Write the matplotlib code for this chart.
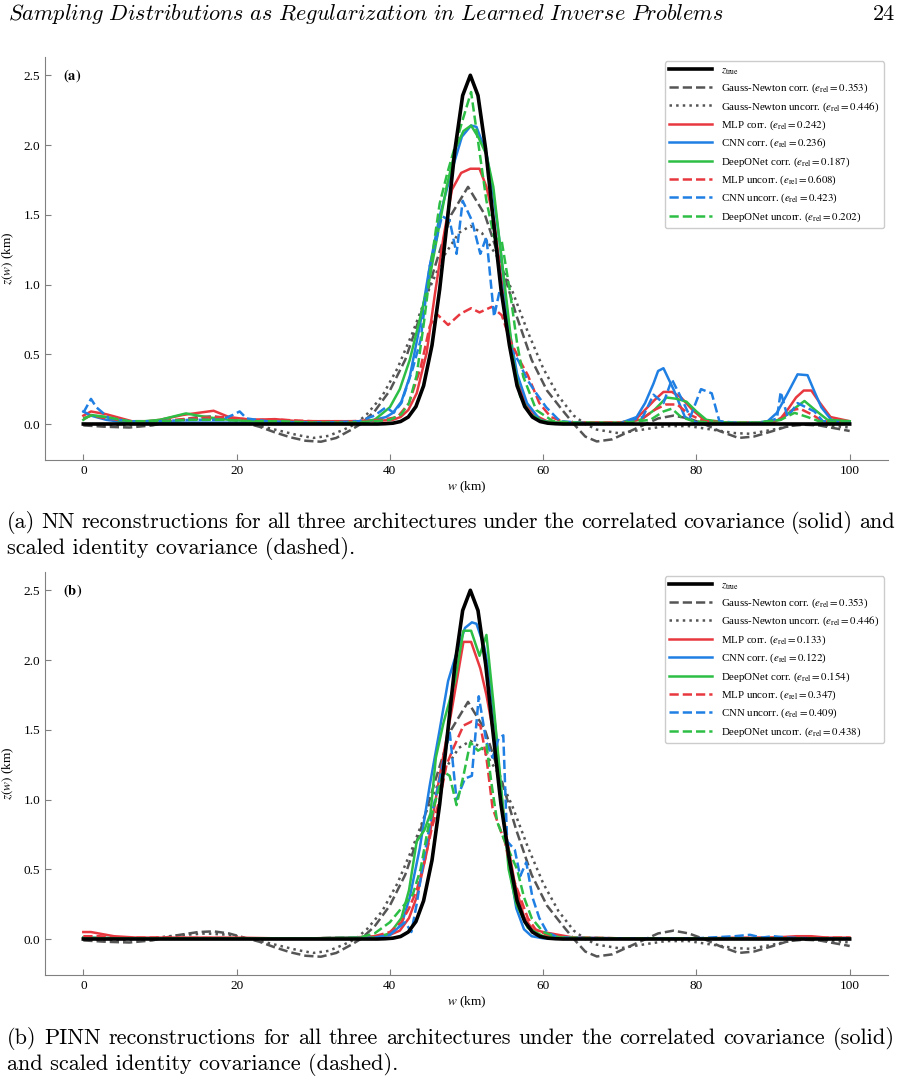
import matplotlib
matplotlib.use("Agg")
import matplotlib.pyplot as plt

plt.rcParams['font.family'] = ['Liberation Serif', 'DejaVu Serif']
plt.rcParams['mathtext.fontset'] = 'stix'

# ground truth and Gauss-Newton (same in both panels)
w_true = [0, 38.4, 39.4, 40.4, 41.4, 42.4, 43.4, 44.4, 45.5, 46.5, 47.5, 48.5, 49.5, 50.5,
          51.5, 52.5, 53.5, 54.5, 55.6, 56.6, 57.6, 58.6, 59.6, 60.6, 61.6, 62.6, 100]
z_true = [0, 0, 0.002, 0.006, 0.018, 0.05, 0.125, 0.274, 0.565, 0.966, 1.46, 1.97, 2.355, 2.5,
          2.355, 1.97, 1.46, 0.966, 0.565, 0.274, 0.125, 0.05, 0.018, 0.006, 0.002, 0, 0]

w_gn_c = [0, 3, 6, 9, 12, 15, 17, 19, 21, 23, 25, 27, 29, 31, 33, 35, 36.2, 38, 40, 42, 44, 46,
          48, 50.2, 52.4, 54.5, 56.5, 58.5, 60.5, 62.5, 64, 65.5, 67, 69, 71, 73, 75, 77, 79, 81,
          83, 85.5, 87.5, 90, 92, 94, 96, 98, 100]
z_gn_c = [-0.01, -0.02, -0.025, -0.01, 0.025, 0.05, 0.055, 0.04, 0.01, -0.02, -0.06, -0.095,
          -0.12, -0.127, -0.1, -0.04, 0.0, 0.09, 0.24, 0.46, 0.78, 1.15, 1.5, 1.7, 1.5, 1.15,
          0.78, 0.46, 0.24, 0.1, 0.0, -0.09, -0.125, -0.11, -0.06, -0.01, 0.04, 0.06, 0.04, 0.0,
          -0.05, -0.1, -0.09, -0.05, -0.015, -0.005, -0.01, -0.03, -0.05]

w_gn_u = [0, 4, 8, 12, 16, 19, 22, 25, 28, 30, 32, 34, 35.5, 37, 39, 41, 43, 45, 47, 49, 50.5,
          52, 54, 56, 58, 60, 62, 64, 65.5, 67, 70, 73, 76, 79, 82, 85, 87, 90, 93, 96, 100]
z_gn_u = [0.0, -0.01, 0.0, 0.025, 0.04, 0.03, 0.0, -0.04, -0.08, -0.1, -0.085, -0.04, 0.0, 0.07,
          0.2, 0.4, 0.66, 0.95, 1.2, 1.37, 1.42, 1.37, 1.2, 0.95, 0.66, 0.4, 0.2, 0.06, 0.0,
          -0.04, -0.067, -0.04, -0.015, -0.015, -0.04, -0.065, -0.07, -0.04, -0.005, -0.005, -0.025]

# (a) NN reconstructions
a_mlp_c_w = [0, 1, 3, 5, 7, 10, 13, 15, 17, 19, 22, 25, 28, 32, 36, 39, 40.4, 41.4, 42.4, 43.5,
             44.8, 45.9, 47, 48.1, 49.3, 50.5, 51.7, 52.6, 53.6, 54.5, 55.5, 56.6, 57.7, 59, 60.5,
             62, 66, 70, 72, 73.1, 74.5, 75.7, 76.8, 78, 79.5, 81, 83, 87, 90, 91, 92, 93, 94, 95,
             96, 97.5, 100]
a_mlp_c_z = [0.06, 0.09, 0.07, 0.04, 0.01, 0.03, 0.065, 0.08, 0.095, 0.05, 0.03, 0.035, 0.02,
             0.02, 0.02, 0.025, 0.03, 0.05, 0.1, 0.22, 0.51, 0.94, 1.34, 1.68, 1.8, 1.83, 1.83,
             1.7, 1.46, 1.06, 0.65, 0.34, 0.15, 0.06, 0.02, 0.01, 0.01, 0.01, 0.03, 0.09, 0.17,
             0.23, 0.23, 0.19, 0.1, 0.03, 0.01, 0.01, 0.01, 0.04, 0.11, 0.19, 0.24, 0.24, 0.16,
             0.05, 0.02]

a_cnn_c_w = [0, 1, 3, 5, 8, 12, 16, 20, 25, 30, 35, 38, 39.5, 40.4, 41.5, 42.6, 43.9, 45.2,
             46.5, 48.1, 49.4, 50.6, 51.3, 52.6, 53.5, 54.4, 55.5, 56.6, 57.9, 59.6, 61, 65, 70,
             72.2, 73.3, 74.4, 75, 75.7, 77, 78.5, 80, 84, 88, 89.3, 90.5, 91.9, 93.2, 94.5, 95.5,
             96.3, 97.6, 100]
a_cnn_c_z = [0.09, 0.06, 0.03, 0.015, 0.01, 0.01, 0.01, 0.01, 0.01, 0.01, 0.01, 0.03, 0.05,
             0.08, 0.16, 0.34, 0.7, 1.13, 1.49, 1.82, 2.06, 2.14, 2.13, 1.94, 1.65, 1.27, 0.7,
             0.36, 0.15, 0.03, 0.01, 0.005, 0.005, 0.05, 0.15, 0.29, 0.38, 0.4, 0.25, 0.05, 0.01,
             0.005, 0.01, 0.02, 0.08, 0.22, 0.356, 0.35, 0.22, 0.12, 0.03, 0.01]

a_don_c_w = [0, 1, 3, 5, 7, 10, 13.4, 16, 19, 22, 26, 30, 35, 38, 40, 41.3, 42.6, 43.9, 45.2,
             46.3, 47.4, 48.6, 49.6, 50.6, 51.6, 52.6, 53.5, 54.4, 55.3, 56.1, 57, 58.3, 60, 62,
             66, 70, 72.7, 74.5, 76.1, 77.5, 78.7, 80, 81.3, 84, 88, 91, 92.5, 94.1, 95.5, 97.1,
             100]
a_don_c_z = [0.03, 0.065, 0.05, 0.02, 0.015, 0.03, 0.076, 0.05, 0.03, 0.02, 0.015, 0.01, 0.01,
             0.03, 0.12, 0.25, 0.46, 0.75, 1.05, 1.38, 1.7, 1.98, 2.1, 2.14, 2.05, 1.93, 1.7,
             1.27, 0.85, 0.46, 0.2, 0.07, 0.02, 0.01, 0.01, 0.01, 0.03, 0.1, 0.19, 0.18, 0.16,
             0.09, 0.03, 0.01, 0.01, 0.03, 0.1, 0.165, 0.1, 0.03, 0.02]

a_mlp_u_w = [0, 1, 3, 6, 10, 14, 18, 22, 26, 30, 35, 39, 41, 42.5, 44, 45.2, 46.1, 47.6, 49.2,
             50.6, 51.7, 53.3, 54.6, 55.7, 57, 58, 59.5, 61, 63, 67, 71, 73, 74.5, 76, 77.5, 79,
             81, 85, 89, 91, 92.5, 93.5, 95, 96.5, 98, 100]
a_mlp_u_z = [0.04, 0.06, 0.04, 0.02, 0.02, 0.04, 0.05, 0.03, 0.03, 0.02, 0.02, 0.03, 0.05,
             0.15, 0.4, 0.7, 0.79, 0.71, 0.79, 0.83, 0.8, 0.84, 0.78, 0.6, 0.45, 0.35, 0.15,
             0.05, 0.01, 0.01, 0.01, 0.04, 0.1, 0.14, 0.14, 0.07, 0.02, 0.01, 0.01, 0.04, 0.1,
             0.11, 0.07, 0.02, 0.01, 0.01]

a_cnn_u_w = [0, 1, 1.7, 3.4, 6, 10, 14, 18, 19.5, 20.4, 21.3, 24, 28, 32, 36, 38, 39.5, 40.5,
             41.5, 43, 44, 45.2, 46.8, 47.8, 48.7, 49.5, 50.7, 51.8, 52.6, 53.6, 54.5, 55.7,
             56.8, 57.9, 59.1, 60.4, 62.2, 66, 70, 73, 74.4, 75.7, 76.8, 77.9, 79.2, 80.6, 82,
             83, 86, 89, 90.5, 91, 91.9, 93.2, 95.4, 96.5, 100]
a_cnn_u_z = [0.08, 0.18, 0.12, 0.04, 0.02, 0.02, 0.03, 0.03, 0.065, 0.09, 0.04, 0.02, 0.01,
             0.01, 0.02, 0.06, 0.12, 0.08, 0.15, 0.4, 0.6, 1.13, 1.49, 1.46, 1.22, 1.6, 1.46,
             1.22, 1.34, 0.77, 1.0, 0.55, 0.45, 0.32, 0.22, 0.12, 0.02, 0.005, 0.005, 0.05, 0.21,
             0.15, 0.32, 0.2, 0.05, 0.25, 0.22, 0.02, 0.005, 0.01, 0.04, 0.23, 0.05, 0.15, 0.09,
             0.02, 0.01]

a_don_u_w = [0, 1, 3, 6, 10, 14, 18, 22, 26, 30, 35, 38, 40, 41.5, 42.5, 43.5, 44.5, 45.5, 46.5,
             47.5, 48.5, 49.5, 50.6, 51.6, 52.6, 53.6, 54.6, 55.7, 56.6, 57.4, 59.1, 61.3, 64,
             70, 74, 75.7, 76.8, 78, 79.6, 82, 88, 91, 92.8, 94.5, 96, 100]
a_don_u_z = [0.04, 0.06, 0.05, 0.02, 0.02, 0.03, 0.03, 0.02, 0.02, 0.01, 0.01, 0.02, 0.03, 0.07,
             0.15, 0.35, 0.75, 1.2, 1.58, 1.8, 1.99, 2.18, 2.38, 1.99, 1.6, 1.34, 1.31, 0.94,
             0.58, 0.34, 0.1, 0.02, 0.01, 0.005, 0.03, 0.09, 0.11, 0.05, 0.02, 0.01, 0.01, 0.03,
             0.08, 0.05, 0.02, 0.01]

# (b) PINN reconstructions
b_mlp_c_w = [0, 1, 2, 4, 7, 10, 15, 20, 25, 30, 35, 38, 40, 41.3, 42.5, 43.5, 44.8, 46.5, 48.1,
             49.6, 50.6, 51.8, 52.6, 53.6, 54.5, 55.2, 56.3, 57.5, 58.6, 60, 62, 64, 70, 80, 90,
             93, 95, 97, 100]
b_mlp_c_z = [0.05, 0.05, 0.04, 0.02, 0.01, 0.01, 0.01, 0.01, 0.005, 0.005, 0.01, 0.02, 0.03,
             0.06, 0.15, 0.3, 0.62, 1.17, 1.65, 2.13, 2.13, 1.94, 1.75, 1.45, 1.05, 0.74, 0.4,
             0.16, 0.07, 0.05, 0.03, 0.01, 0.005, 0.005, 0.01, 0.02, 0.02, 0.01, 0.01]

b_cnn_c_w = [0, 5, 10, 20, 30, 38, 40, 41.5, 42.6, 43.9, 45.2, 46.5, 47.6, 48.7, 49.8, 50.7,
             51.3, 52.3, 53.0, 53.8, 54.6, 55.5, 56.5, 57.5, 58.5, 60, 62, 70, 80, 90, 100]
b_cnn_c_z = [0.01, 0.005, 0.005, 0.005, 0.005, 0.01, 0.03, 0.1, 0.3, 0.65, 1.1, 1.5, 1.85, 2.05,
             2.23, 2.27, 2.26, 2.1, 1.89, 1.5, 1.0, 0.55, 0.22, 0.07, 0.02, 0.005, 0.005, 0.005,
             0.005, 0.005, 0.005]

b_don_c_w = [0, 5, 10, 20, 30, 38, 40, 41.5, 42.5, 43.5, 44.5, 45.3, 46, 47, 48.5, 49.6, 50.6,
             51.7, 52.6, 53.5, 54.5, 55.5, 56.5, 58, 60, 65, 80, 100]
b_don_c_z = [0.01, 0.005, 0.005, 0.005, 0.005, 0.01, 0.04, 0.15, 0.35, 0.7, 0.78, 0.9, 1.3, 1.55,
             1.85, 2.21, 2.21, 2.03, 2.18, 1.7, 1.1, 0.5, 0.25, 0.08, 0.02, 0.005, 0.005, 0.005]

b_mlp_u_w = [0, 2, 5, 10, 20, 30, 36, 38, 40, 41.5, 42.5, 43.5, 44.5, 45.5, 46.5, 47.4, 48.3,
             49.6, 50.7, 51.8, 52.6, 53.4, 54.3, 55, 56, 57, 58, 59, 60.5, 62, 65, 70, 80, 90, 100]
b_mlp_u_z = [0.02, 0.02, 0.01, 0.01, 0.005, 0.005, 0.01, 0.02, 0.05, 0.12, 0.22, 0.35, 0.55,
             0.8, 1.0, 1.25, 1.37, 1.53, 1.56, 1.53, 1.3, 0.94, 0.8, 0.7, 0.45, 0.3, 0.15, 0.07,
             0.03, 0.01, 0.01, 0.005, 0.005, 0.01, 0.01]

b_cnn_u_w = [0, 5, 10, 20, 30, 38, 40, 41, 42, 42.8, 43.5, 44.5, 45.5, 46.5, 47.8, 48.7, 49.8,
             50.7, 51.6, 52.6, 53.4, 54.2, 54.8, 55.3, 56.3, 57, 57.8, 58.6, 59.5, 60.5, 62, 70,
             80, 85, 87, 88.5, 90, 92, 95, 100]
b_cnn_u_z = [0.005, 0.005, 0.005, 0.005, 0.005, 0.01, 0.03, 0.08, 0.12, 0.05, 0.25, 0.6, 0.9,
             1.15, 1.49, 1.0, 1.15, 1.17, 1.74, 1.41, 1.3, 1.44, 1.46, 0.7, 0.64, 0.45, 0.55, 0.3,
             0.15, 0.05, 0.01, 0.005, 0.005, 0.02, 0.03, 0.01, 0.02, 0.01, 0.005, 0.005]

b_don_u_w = [0, 5, 10, 20, 30, 36, 38, 40, 41.5, 43, 44, 45, 46, 47, 47.8, 48.7, 49.6, 50.5,
             51.5, 52.6, 53.3, 54, 55, 56.6, 57.5, 58.5, 60, 62, 70, 100]
b_don_u_z = [0.005, 0.005, 0.005, 0.005, 0.005, 0.01, 0.04, 0.12, 0.22, 0.32, 0.5, 0.8, 1.0, 1.2,
             1.17, 0.96, 1.17, 1.41, 1.35, 1.39, 1.1, 0.84, 0.7, 0.5, 0.3, 0.15, 0.05, 0.01,
             0.005, 0.005]

gn_err = [0.353, 0.446]
a_err = [0.242, 0.236, 0.187, 0.608, 0.423, 0.202]
b_err = [0.133, 0.122, 0.154, 0.347, 0.409, 0.438]
nn_names = ['MLP corr.', 'CNN corr.', 'DeepONet corr.', 'MLP uncorr.', 'CNN uncorr.', 'DeepONet uncorr.']

header = 'Sampling Distributions as Regularization in Learned Inverse Problems'
cap_a = ['(a) NN reconstructions for all three architectures under the correlated covariance (solid) and',
         'scaled identity covariance (dashed).']
cap_b = ['(b) PINN reconstructions for all three architectures under the correlated covariance (solid)',
         'and scaled identity covariance (dashed).']

RED, BLUE, GREEN, GRAY = '#e8383f', '#1f7fe3', '#2dbf45', '#555555'
NN_COLORS = [RED, BLUE, GREEN, RED, BLUE, GREEN]
NN_STYLES = ['-', '-', '-', '--', '--', '--']

FIG_W, FIG_H = 901, 1081
CAP_SIZE = 16


def draw_panel(ax, tag, series, errs):
    ax.plot(w_true, z_true, color='black', lw=2.6, zorder=10, label=r'$z_{\mathrm{true}}$')
    ax.plot(w_gn_c, z_gn_c, color=GRAY, lw=1.8, ls='--',
            label=r'Gauss-Newton corr. ($e_{\mathrm{rel}} = %.3f$)' % gn_err[0])
    ax.plot(w_gn_u, z_gn_u, color=GRAY, lw=1.8, ls=':',
            label=r'Gauss-Newton uncorr. ($e_{\mathrm{rel}} = %.3f$)' % gn_err[1])
    for (w, z), name, e, c, s in zip(series, nn_names, errs, NN_COLORS, NN_STYLES):
        ax.plot(w, z, color=c, ls=s, lw=1.8,
                label=r'%s ($e_{\mathrm{rel}} = %.3f$)' % (name, e))

    ax.set_xlim(-5, 105)
    ax.set_ylim(-0.258, 2.631)
    ax.set_xticks([0, 20, 40, 60, 80, 100])
    ax.set_yticks([0.0, 0.5, 1.0, 1.5, 2.0, 2.5])
    ax.set_yticklabels(['0.0', '0.5', '1.0', '1.5', '2.0', '2.5'])
    for side in ['top', 'right']:
        ax.spines[side].set_visible(False)
    for side in ['left', 'bottom']:
        ax.spines[side].set_color('#808080')
    ax.tick_params(direction='in', length=4, color='#808080', labelsize=9.5)
    ax.set_xlabel(r'$w$ (km)', fontsize=9.5, labelpad=2)
    ax.set_ylabel(r'$z(w)$ (km)', fontsize=9.5, labelpad=5)
    ax.text(0.021, 0.955, r'$\mathbf{%s}$' % tag, transform=ax.transAxes, fontsize=10.5,
            va='center')
    leg = ax.legend(loc='upper right', fontsize=7.8, handlelength=4.0, handletextpad=0.8,
                    labelspacing=0.45, borderaxespad=0.4, fancybox=True, framealpha=1)
    leg.get_frame().set_edgecolor('#cccccc')


def justify(fig, renderer, line, y, x0, x1, size):
    words = line.split()
    objs = [fig.text(0, 1 - y / FIG_H, wd, fontsize=size, family='cmr10', va='baseline')
            for wd in words]
    widths = [o.get_window_extent(renderer).width for o in objs]
    gap = (x1 - x0 - sum(widths)) / (len(words) - 1)
    x = x0
    for o, wd in zip(objs, widths):
        o.set_x(x / FIG_W)
        x += wd + gap


fig = plt.figure(figsize=(FIG_W / 100, FIG_H / 100), dpi=100)
ax_a = fig.add_axes([45 / FIG_W, 1 - 460 / FIG_H, 843 / FIG_W, 403 / FIG_H])
ax_b = fig.add_axes([45 / FIG_W, 1 - 975 / FIG_H, 843 / FIG_W, 403 / FIG_H])

draw_panel(ax_a, '(a)', [(a_mlp_c_w, a_mlp_c_z), (a_cnn_c_w, a_cnn_c_z), (a_don_c_w, a_don_c_z),
                         (a_mlp_u_w, a_mlp_u_z), (a_cnn_u_w, a_cnn_u_z), (a_don_u_w, a_don_u_z)],
           a_err)
draw_panel(ax_b, '(b)', [(b_mlp_c_w, b_mlp_c_z), (b_cnn_c_w, b_cnn_c_z), (b_don_c_w, b_don_c_z),
                         (b_mlp_u_w, b_mlp_u_z), (b_cnn_u_w, b_cnn_u_z), (b_don_u_w, b_don_u_z)],
           b_err)

# page header
fig.text(8 / FIG_W, 1 - 20 / FIG_H, r'$\mathit{' + header.replace(' ', r'\ ') + '}$',
         math_fontfamily='cm', fontsize=CAP_SIZE, va='baseline', ha='left')
fig.text(895 / FIG_W, 1 - 20 / FIG_H, '24', family='cmr10', fontsize=CAP_SIZE,
         va='baseline', ha='right')

# captions
renderer = fig.canvas.get_renderer()
justify(fig, renderer, cap_a[0], 528, 7, 895, CAP_SIZE)
fig.text(7 / FIG_W, 1 - 554 / FIG_H, cap_a[1], family='cmr10', fontsize=CAP_SIZE, va='baseline')
justify(fig, renderer, cap_b[0], 1044, 7, 895, CAP_SIZE)
fig.text(7 / FIG_W, 1 - 1070 / FIG_H, cap_b[1], family='cmr10', fontsize=CAP_SIZE, va='baseline')

fig.savefig('out.png', dpi=100)
